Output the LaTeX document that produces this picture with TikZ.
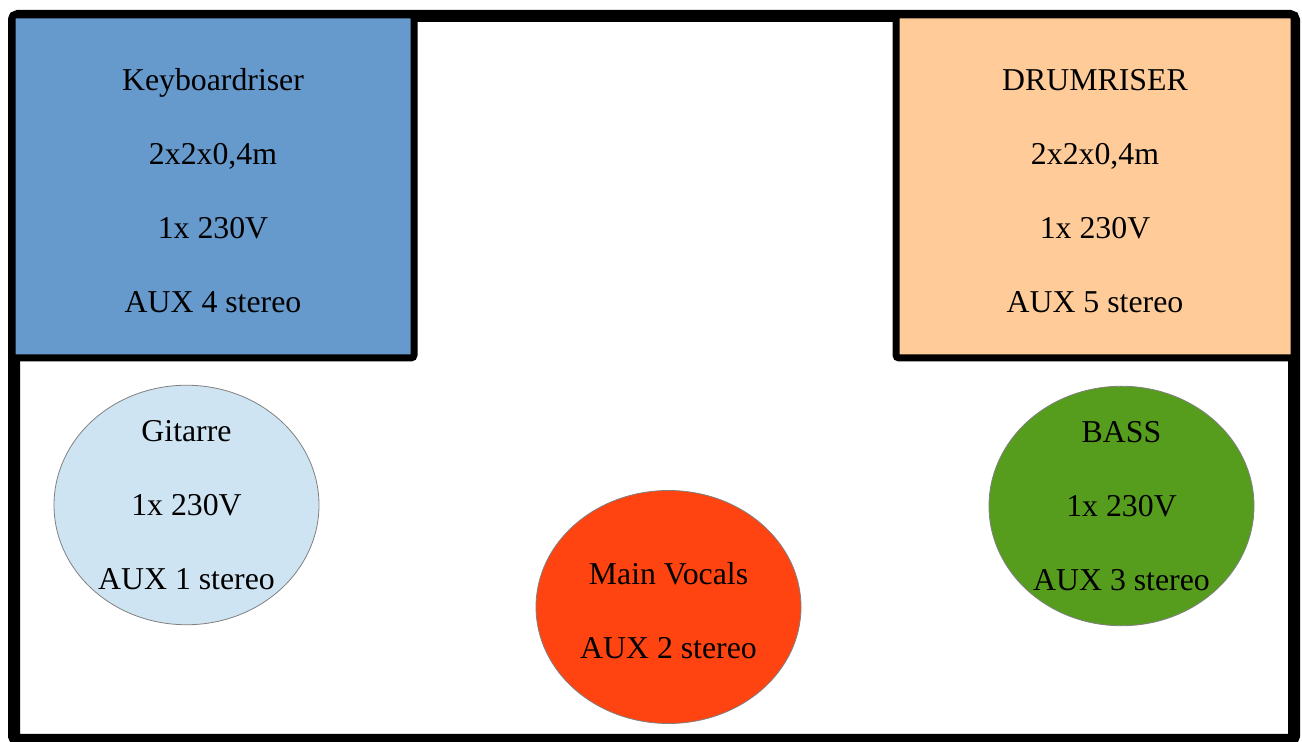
\documentclass[tikz,border=0pt]{standalone}
\usepackage{fontspec}
\setmainfont{Liberation Serif}
\usepackage{tikz}
\usetikzlibrary{shapes.geometric}
\usetikzlibrary{positioning}
\definecolor{keyblue}{RGB}{102, 153, 204}
\definecolor{drumpeach}{RGB}{255, 204, 153}
\definecolor{guitarblue}{RGB}{207, 228, 242}
\definecolor{vocalred}{RGB}{255, 68, 17}
\definecolor{bassgreen}{RGB}{86, 157, 30}
\newcommand{\lowerline}{\rule{0pt}{15pt}}
\tikzset{
    stage/.style = {
      draw=black,
      line width=6pt,
      rounded corners=2pt
    },
    riser/.style = {
      rectangle,
      draw=black,
      line width=3.5pt,
      rounded corners=1.5pt,
      minimum width=201pt,
      minimum height=171.5pt,
      inner sep=0pt,
      align=center,
      font=\fontsize{15.9}{37}\selectfont
    },
    spot/.style = {
      ellipse,
      draw=black!50,
      line width=0.4pt,
      minimum width=132.5pt,
      minimum height=116.5pt,
      inner sep=0pt,
      align=center,
      font=\fontsize{15.9}{37}\selectfont
    },
}

\begin{document}
\begin{tikzpicture}[x=0.5pt, y=-0.5pt]
      \useasboundingbox (0,0) rectangle (1302,742);

      % stage outline
      \draw[stage] (14,16) rectangle (1294,740);

      % risers
      \node [riser, fill=keyblue] (keyboard) at (213,186.5)
            {\lowerline Keyboardriser\\2x2x0,4m\\1x 230V\\AUX 4 stereo};
      \node [riser, fill=drumpeach, minimum width=199pt] (drums) at (1095,186.5)
            {\lowerline DRUMRISER\\2x2x0,4m\\1x 230V\\AUX 5 stereo};

      % players
      \node [spot, fill=guitarblue] (guitar) at (186.5,505)
            {Gitarre\\1x 230V\\AUX 1 stereo};
      \node [spot, fill=vocalred] (vocals) at (668.5,607)
            {\lowerline Main Vocals\\AUX 2 stereo};
      \node [spot, fill=bassgreen] (bass) at (1121.5,506)
            {BASS\\1x 230V\\AUX 3 stereo};
\end{tikzpicture}
\end{document}
